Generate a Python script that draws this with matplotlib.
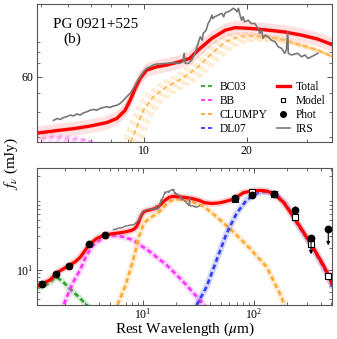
import matplotlib
matplotlib.use('Agg')
import matplotlib.pyplot as plt
import numpy as np
from matplotlib.lines import Line2D
from matplotlib.ticker import NullFormatter, FixedLocator, FixedFormatter, LogLocator

plt.rcParams['font.family'] = ['Liberation Serif', 'DejaVu Serif']
plt.rcParams['mathtext.fontset'] = 'stix'
plt.rcParams['lines.scale_dashes'] = False

# ---------------- data ----------------
total_wave = [1.10, 1.22, 1.45, 1.64, 1.73, 2.14, 2.44, 2.71, 3.28, 3.83, 4.52, 4.97, 5.5, 6.21,
              6.95, 7.78, 8.32, 8.8, 9.10, 9.42, 9.74, 10.18, 10.9, 11.65, 12.7, 13.6, 14.4, 15.8,
              17.3, 18.5, 20.6, 23.1, 25.8, 28.9, 32.3, 35.8, 42.0, 49.4, 65.1, 80.1, 98.6, 115,
              130, 151, 184, 226, 278, 342, 421, 468, 507]
total_flux = [6.0, 6.4, 7.3, 8.8, 9.5, 11.5, 13.0, 15.0, 22.7, 27.5, 31.0, 31.5, 32.2, 33.0,
              34.0, 35.4, 37.1, 40.8, 45.7, 52.5, 58.9, 64.8, 67.3, 68.7, 71.3, 74.1, 81.5, 93.4,
              102.6, 105.6, 104.6, 102.6, 100.5, 96.9, 92.5, 86.4, 84.0, 86.0, 95.9, 118.6, 126.5, 127.5,
              125.0, 114.8, 88.0, 56.0, 34.0, 20.5, 11.8, 8.6, 6.4]

bc03_wave = [1.10, 1.36, 1.50, 1.64, 1.85, 2.2, 2.61, 3.1, 3.5]
bc03_flux = [5.6, 6.3, 7.0, 8.0, 7.2, 5.5, 4.3, 3.3, 2.8]

bb_wave = [1.94, 2.12, 2.36, 2.71, 3.1, 3.57, 4.39, 5.4, 6.65, 8.18, 11.6, 16.4, 23.1, 32.6, 36.5]
bb_flux = [3.37, 4.74, 6.9, 10.0, 16.2, 22.2, 28.4, 30.0, 29.0, 26.0, 17.9, 11.7, 6.9, 3.83, 3.1]

clumpy_wave = [5.9, 7.0, 8.0, 8.6, 9.10, 9.53, 9.95, 10.65, 11.65, 12.7, 13.6, 14.4, 15.8, 17.3,
               18.9, 20.6, 23.1, 25.8, 28.9, 32.3, 35.8, 46.1, 65.1, 92.0, 130, 171, 190]
clumpy_flux = [3.3, 6.3, 12.5, 19.0, 27.9, 33.7, 40.8, 47.7, 53.5, 57.8, 62.4, 67.3, 78.6, 89.6,
               95.1, 95.9, 94.5, 91.5, 86.4, 81.5, 75.5, 55.0, 34.0, 20.0, 11.1, 4.74, 3.2]

dl07_wave = [30.5, 37.5, 46.1, 56.7, 69.8, 85.9, 105.7, 120, 130, 160, 197, 242, 298, 367, 452, 507]
dl07_flux = [3.27, 5.9, 13.8, 32.3, 61.3, 93.8, 116, 122, 121, 112, 80, 46, 28, 16.5, 9.2, 6.0]

irs_wave = [5.43, 5.56, 5.68, 5.81, 5.94, 6.08, 6.21, 6.36, 6.50, 6.65, 6.80, 6.95,
            7.11, 7.27, 7.44, 7.60, 7.78, 7.96, 8.13, 8.32, 8.51, 8.70, 8.90,
            9.10, 9.31, 9.53, 9.74, 9.96, 10.18, 10.40, 10.65, 10.90, 11.10,
            11.65, 12.20, 12.70, 13.00, 13.10, 13.20, 13.50, 13.80, 14.10, 14.40,
            14.60, 14.80, 14.90, 15.20, 15.40, 15.60, 15.80, 15.90, 16.10, 16.50,
            16.90, 17.10, 17.30, 17.60, 18.00, 18.20, 18.50, 18.70, 18.90, 19.10,
            19.30, 19.50, 19.70, 20.20, 20.60, 21.10, 21.60, 21.80, 22.10, 22.30,
            22.60, 23.10, 23.60, 24.20, 24.70, 25.30, 25.80, 26.10, 26.35, 26.45,
            27.00, 28.20, 28.90, 29.60, 30.20, 30.90, 31.60, 32.30]
irs_flux = [36.3, 37.1, 36.7, 37.5, 37.9, 38.6, 38.2, 39.1, 38.6, 39.6, 40.1, 40.8,
            41.2, 40.8, 41.7, 42.1, 42.5, 42.1, 42.8, 43.2, 44.1, 45.7, 47.7,
            49.5, 52.5, 56.6, 60.0, 63.6, 66.1, 67.3, 68.7, 69.5, 69.5,
            70.0, 70.5, 70.0, 71.3, 78.6, 70.0, 70.0, 72.7, 78.6, 88.2,
            95.1, 91.5, 98.8, 102.6, 110.7, 115.0, 122.0, 117.3, 119.7, 122.0,
            124.5, 119.7, 125.4, 126.7, 129.3, 131.9, 130.2, 126.7, 131.9, 122.0,
            115.0, 119.7, 113.0, 115.0, 110.7, 110.7, 104.6, 98.8, 102.6, 93.4,
            96.9, 95.1, 91.5, 89.6, 84.8, 83.1, 78.6, 81.5, 100.6, 78.6,
            77.1, 78.6, 75.5, 77.1, 74.1, 75.5, 77.1, 78.6]

phot_wave = [1.22, 1.64, 2.14, 3.28, 4.52, 67.4, 95.3, 151, 234, 327, 468]
phot_flux = [6.4, 8.7, 11.5, 22.8, 31.0, 101, 110, 115, 68, 27.6, 36.7]
phot_err_lo = [0, 0, 0, 0, 0, 0, 0, 0, 8, 0, 0]
phot_err_hi = [0, 0, 0, 0, 0, 0, 0, 0, 9, 0, 0]
phot_uplim = [False, False, False, False, False, False, False, False, False, True, True]

model_wave = [67.4, 95.3, 151, 234, 327, 468]
model_flux = [96, 122, 115, 54, 22.8, 8.3]

# ---------------- style ----------------
C_RED = '#ff0000'
C_GREEN = '#33a033'
C_MAG = '#ff33ff'
C_ORG = '#ffaa33'
C_BLUE = '#3340ee'
C_IRS = '#777777'
DASH = (3.5, 2.2)

fig = plt.figure(figsize=(3.37, 3.39), dpi=100)
ax1 = fig.add_axes([0.110, 0.582, 0.875, 0.405])
ax2 = fig.add_axes([0.110, 0.100, 0.875, 0.405])

for ax in (ax1, ax2):
    ax.set_xscale('log')
    ax.set_yscale('log')
    for s in ax.spines.values():
        s.set_color('#555555')
        s.set_linewidth(0.8)
    ax.tick_params(which='both', direction='in', top=True, right=True, color='#555555',
                   labelsize=8.5, pad=2.5)
    ax.tick_params(which='major', length=3.5, width=0.7)
    ax.tick_params(which='minor', length=2.0, width=0.6)


def tw(a):
    return np.asarray(a, dtype=float)

# ---------------- top panel ----------------
tot_w, tot_f = tw(total_wave), tw(total_flux)
clu_w, clu_f = tw(clumpy_wave), tw(clumpy_flux)
bb_w, bb_f = tw(bb_wave), tw(bb_flux)

band_shift = [(0.96, 1.035), (0.98, 1.018), (1.02, 0.982), (1.04, 0.965), (1.06, 0.95)]
for xf, yf in band_shift:
    ax1.plot(clu_w * xf, clu_f * yf, color=C_ORG, lw=1.6, alpha=0.25, dashes=DASH)
    ax1.plot(bb_w * xf, bb_f * yf, color=C_MAG, lw=1.6, alpha=0.15, dashes=DASH)
ax1.plot(clu_w, clu_f, color=C_ORG, lw=1.6, alpha=0.8, dashes=DASH)
ax1.plot(bb_w, bb_f, color=C_MAG, lw=1.6, alpha=0.4, dashes=DASH)

for yf in [0.93, 0.95, 0.97, 0.985, 1.015, 1.03, 1.05, 1.07]:
    ax1.plot(tot_w, tot_f * yf, color='#ff7777', lw=1.2, alpha=0.22)
ax1.plot(tot_w, tot_f, color=C_RED, lw=2.4)
ax1.plot(irs_wave, irs_flux, color=C_IRS, lw=1.2, zorder=5)

ax1.set_xlim(4.86, 35.5)
ax1.set_ylim(28.4, 138)
ax1.xaxis.set_major_locator(FixedLocator([10, 20]))
ax1.xaxis.set_major_formatter(FixedFormatter(['10', '20']))
ax1.xaxis.set_minor_locator(LogLocator(base=10, subs=np.arange(2, 10)))
ax1.xaxis.set_minor_formatter(NullFormatter())
ax1.yaxis.set_major_locator(FixedLocator([60]))
ax1.yaxis.set_major_formatter(FixedFormatter(['60']))
ax1.yaxis.set_minor_locator(LogLocator(base=10, subs=np.arange(2, 10)))
ax1.yaxis.set_minor_formatter(NullFormatter())

ax1.text(0.053, 0.827, 'PG 0921+525', transform=ax1.transAxes, fontsize=11, va='baseline')
ax1.text(0.088, 0.718, '(b)', transform=ax1.transAxes, fontsize=11, va='baseline')

handles = [
    Line2D([], [], color=C_GREEN, lw=1.3, dashes=(3, 2)),
    Line2D([], [], color=C_MAG, lw=1.3, dashes=(3, 2)),
    Line2D([], [], color=C_ORG, lw=1.3, dashes=(3, 2)),
    Line2D([], [], color=C_BLUE, lw=1.3, dashes=(3, 2)),
    Line2D([], [], color=C_RED, lw=2.4),
    Line2D([], [], ls='none', marker='s', mfc='white', mec='k', ms=3.5, mew=0.8),
    Line2D([], [], ls='none', marker='o', color='k', ms=4),
    Line2D([], [], color=C_IRS, lw=1.2),
]
labels = ['BC03', 'BB', 'CLUMPY', 'DL07', 'Total', 'Model', 'Phot', 'IRS']
ax1.legend(handles, labels, ncol=2, loc='lower right', frameon=False, fontsize=8.3,
           handlelength=1.15, columnspacing=0.8, labelspacing=0.18, handletextpad=0.45,
           borderaxespad=0.3, borderpad=0.3)

# ---------------- bottom panel ----------------
comps = [(bc03_wave, bc03_flux, C_GREEN), (bb_wave, bb_flux, C_MAG),
         (clumpy_wave, clumpy_flux, C_ORG), (dl07_wave, dl07_flux, C_BLUE)]
for w, f, c in comps:
    ax2.plot(w, f, color=c, lw=4.5, alpha=0.2, solid_capstyle='round')
    ax2.plot(w, f, color=c, lw=1.9, dashes=DASH)

ax2.plot(total_wave, total_flux, color='#ff8888', lw=5, alpha=0.35)
ax2.plot(total_wave, total_flux, color=C_RED, lw=2.3, zorder=4)
ax2.plot(irs_wave, irs_flux, color=C_IRS, lw=1.0, zorder=5)

ax2.plot(model_wave, model_flux, ls='none', marker='s', mfc='white', mec='k', ms=4,
         mew=0.8, zorder=6)
pw, pf = tw(phot_wave), tw(phot_flux)
up = np.array(phot_uplim)
ax2.errorbar(pw, pf, yerr=[phot_err_lo, phot_err_hi], fmt='o', color='k', ms=4.6,
             elinewidth=0.8, capsize=0, zorder=7)
for x, y, u in zip(pw, pf, up):
    if u:
        ax2.annotate('', xy=(x, y * 0.6), xytext=(x, y),
                     arrowprops=dict(arrowstyle='-|>', color='k', lw=0.8,
                                     mutation_scale=5, shrinkA=0, shrinkB=0), zorder=7)

ax2.set_xlim(1.11, 505)
ax2.set_ylim(3.27, 263)
ax2.yaxis.set_major_locator(FixedLocator([10]))
ax2.yaxis.set_minor_locator(LogLocator(base=10, subs=np.arange(2, 10)))
ax2.yaxis.set_minor_formatter(NullFormatter())
ax2.xaxis.set_minor_formatter(NullFormatter())
ax2.tick_params(axis='x', which='major', pad=1.5)
ax2.set_xlabel(r'Rest Wavelength ($\mu$m)', fontsize=11, labelpad=-0.5)

fig.text(0.034, 0.518, r'$f_\nu$ (mJy)', rotation=90, ha='center', va='center', fontsize=11)

fig.savefig('out.png', dpi=100)
